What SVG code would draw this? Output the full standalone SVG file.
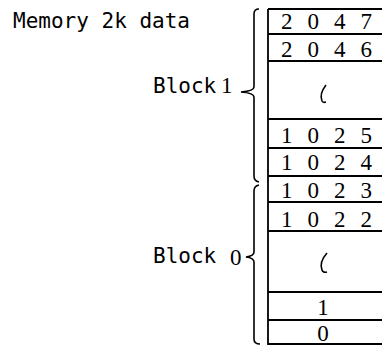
<svg xmlns="http://www.w3.org/2000/svg" width="382" height="346" viewBox="0 0 382 346">
<style>
.ln{stroke:#000;stroke-width:1.8;fill:none}
.br{stroke:#000;stroke-width:1.6;fill:none}
.d{font-family:"Liberation Serif","Times New Roman",serif;font-size:23px;fill:#000}
.m{font-family:"DejaVu Sans Mono","Liberation Mono",monospace;font-size:21px;fill:#000}
</style>
<rect width="382" height="346" fill="#fff"/>
<g id="labels">
<text class="m" x="13" y="28">Memory 2k data</text>
<text class="m" x="153" y="93">Block</text>
<text class="d" x="221" y="93">1</text>
<text class="m" x="153" y="263">Block</text>
<text class="d" x="230" y="265">0</text>
</g>
<g id="braces">
<path class="br" d="M259 9 Q254 9 254 14 L254 87 Q254 91 241 92 Q254 93 254 97 L254 176 Q254 181 259 182"/>
<path class="br" d="M259 185 Q254 186 254 191 L254 252 Q254 256 246 257 Q254 258 254 262 L254 339 Q254 344 260 344"/>
</g>
<g id="table">
<path class="ln" d="M268 9 V345 M268 9 H382 M268 34 H382 M268 61 H382 M268 119 H382 M268 148 H382 M268 176 H382 M268 202 H382 M268 231 H382 M268 292 H382 M268 320 H382 M268 344 H382"/>
</g>
<g id="row2047"><text class="d" x="281 307.5 334 360.5" y="29">2047</text></g>
<g id="row2046"><text class="d" x="281 307.5 334 360.5" y="57">2046</text></g>
<g id="gap1"><path class="br" d="M326 85 Q319 94 322 101 Q323 103 326 102"/></g>
<g id="row1025"><text class="d" x="281 307.5 334 360.5" y="143">1025</text></g>
<g id="row1024"><text class="d" x="281 307.5 334 360.5" y="170">1024</text></g>
<g id="row1023"><text class="d" x="281 307.5 334 360.5" y="198">1023</text></g>
<g id="row1022"><text class="d" x="281 307.5 334 360.5" y="227">1022</text></g>
<g id="gap0"><path class="br" d="M327 253 Q319 262 322 270 Q323 273 327 272"/></g>
<g id="row1"><text class="d" x="323" y="315" text-anchor="middle">1</text></g>
<g id="row0"><text class="d" x="323" y="341" text-anchor="middle">0</text></g>
</svg>
